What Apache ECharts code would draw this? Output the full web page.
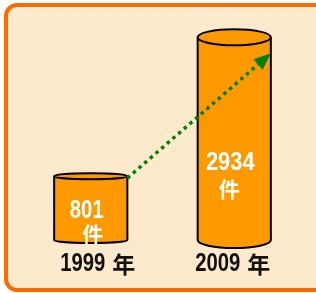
<!DOCTYPE html>
<html>
<head>
<meta charset="utf-8">
<script src="https://cdn.jsdelivr.net/npm/echarts@6/dist/echarts.min.js"></script>
<style>
  html, body { margin: 0; padding: 0; background: #fff; }
  #main { width: 316px; height: 293px; }
</style>
</head>
<body>
<div id="main"></div>
<script>
// 数据
const years = ['1999', '2009']
const counts = [801, 2934]
const unitText = '件'
const yearSuffix = '年'

// 样式
const ellipseRy = [3, 8]
const orange = '#FF9900'
const numFont = '"Liberation Sans", Arial, sans-serif'
const cjkFont = '"Noto Sans CJK SC", sans-serif'
// 标签相对圆柱的偏移 [数值dx, 数值dy, 件dx, 件dy, 年份dx]
const labelOffset = [
  [-4, 35, 2, 58, 7],
  [-4, 126, -5, 152, -1.5]
]
const numScale = [0.78, 0.84]

const chart = echarts.init(document.getElementById('main'))

// 压缩字宽的文字
function narrowText(text, x, y, font, scaleX, fill) {
  return {
    type: 'text',
    x: x,
    y: y,
    scaleX: scaleX,
    style: { text: text, x: 0, y: 0, align: 'center', verticalAlign: 'middle', fill: fill, font: font }
  }
}

function renderCylinder(params, api) {
  const i = params.dataIndex
  const top = api.coord([i, api.value(1)])
  const base = api.coord([i, -180])
  const w = api.size([1, 0])[0] * 0.51
  const rx = w / 2
  const ry = ellipseRy[i]
  const cx = top[0]
  const off = labelOffset[i]
  const stroke = { stroke: '#000', lineWidth: 2 }
  const children = [
    { type: 'ellipse', shape: { cx: cx, cy: base[1], rx: rx, ry: ry }, style: Object.assign({ fill: orange }, stroke) },
    { type: 'rect', shape: { x: cx - rx, y: top[1], width: w, height: base[1] - top[1] }, style: { fill: orange } },
    { type: 'line', shape: { x1: cx - rx, y1: top[1], x2: cx - rx, y2: base[1] }, style: stroke },
    { type: 'line', shape: { x1: cx + rx, y1: top[1], x2: cx + rx, y2: base[1] }, style: stroke },
    { type: 'ellipse', shape: { cx: cx, cy: top[1], rx: rx, ry: ry }, style: Object.assign({ fill: orange }, stroke) }
  ]
  // 数值标签
  children.push(narrowText(String(api.value(1)), cx + off[0], top[1] + off[1], 'bold 26px ' + numFont, numScale[i], '#fff'))
  children.push(narrowText(unitText, cx + off[2], top[1] + off[3], 'bold 21px ' + cjkFont, 1, '#fff'))
  // 年份标签
  const ly = base[1] + 24
  const lx = cx + off[4]
  children.push(narrowText(years[i], lx - 15, ly, 'bold 26px ' + numFont, 0.78, '#111'))
  children.push(narrowText(yearSuffix, lx + 26, ly, 'bold 23px ' + cjkFont, 1, '#111'))
  // 趋势箭头
  if (i === 1) {
    const p0 = api.coord([0, counts[0]])
    const x0 = p0[0] + rx
    const y0 = p0[1] + 2
    const x1 = cx + rx
    const y1 = top[1] + 16
    const dx = x1 - x0, dy = y1 - y0
    const len = Math.sqrt(dx * dx + dy * dy)
    const ux = dx / len, uy = dy / len
    const hl = 17, hw = 7
    const bx = x1 - ux * hl, by = y1 - uy * hl
    children.push({
      type: 'line',
      shape: { x1: x0, y1: y0, x2: bx, y2: by },
      style: { stroke: '#008000', lineWidth: 3.5, lineDash: [3.5, 4] }
    })
    children.push({
      type: 'polygon',
      shape: { points: [[x1, y1], [bx - uy * hw, by + ux * hw], [bx + uy * hw, by - ux * hw]] },
      style: { fill: '#008000' }
    })
  }
  return { type: 'group', children: children }
}

chart.setOption({
  backgroundColor: '#fff',
  animation: false,
  graphic: [
    {
      type: 'rect',
      z: -10,
      shape: { x: 6, y: 5, width: 330, height: 285, r: 11 },
      style: { fill: '#FDE9CC', stroke: '#FF6A00', lineWidth: 4 }
    }
  ],
  grid: { left: 19, right: 10, top: 33, bottom: 53 },
  xAxis: {
    type: 'category',
    data: years,
    axisLine: { show: false },
    axisTick: { show: false },
    axisLabel: { show: false }
  },
  yAxis: {
    type: 'value',
    min: -180,
    max: 3000,
    show: false,
    splitLine: { show: false }
  },
  series: [
    {
      type: 'custom',
      renderItem: renderCylinder,
      data: years.map(function (y, i) { return [i, counts[i]] })
    }
  ]
})
</script>
</body>
</html>
